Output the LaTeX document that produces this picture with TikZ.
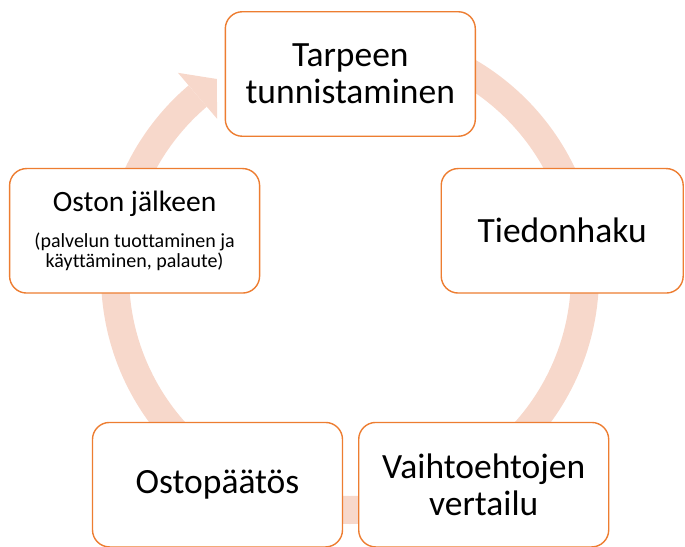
\documentclass[tikz,border=0pt]{standalone}
\usepackage{fontspec}
\setmainfont{Carlito}[Ligatures=NoCommon]
\usepackage{tikz}
\usetikzlibrary{positioning}
\definecolor{stageline}{HTML}{ED7D31}
\definecolor{ringfill}{HTML}{F7D8CB}

\begin{document}
\begin{tikzpicture}[x=1bp,y=1bp,on grid,
    stage/.style={draw=stageline,line width=1.4bp,fill=white,rounded corners=17bp,
        minimum width=250bp,minimum height=124.5bp,align=center,inner sep=0pt,
        font=\fontsize{35.5bp}{36.7bp}\selectfont},
    ring/.style={draw=ringfill,line width=28bp}]
    \useasboundingbox (0,0) rectangle (685,547);
    \coordinate (hub) at (350,272);
    \draw[ring] (hub) ++(90:235) arc[start angle=90,end angle=-229.6,radius=235bp];
    \begin{scope}[shift={(hub)}]
        \fill[ringfill] (130.4:265.5) -- (124.2:237) -- (130.4:205) -- cycle;
    \end{scope}
    \node[stage] (need) at (350.3,473) {Tarpeen\\tunnistaminen};
    \node[stage,minimum width=242bp] (search) [below right=156.8bp and 211.9bp of need] {Tiedonhaku};
    \node[stage] (compare) [below left=253.9bp and 78.5bp of search] {Vaihtoehtojen\\vertailu};
    \node[stage] (decision) [left=266.2bp of compare] {Ostopäätös};
    \node[stage,font=\fontsize{20bp}{20bp}\selectfont] (after) [below left=156.8bp and 215.7bp of need]
        {{\fontsize{29.5bp}{30bp}\selectfont Oston jälkeen}\\[16bp](palvelun tuottaminen ja\\käyttäminen, palaute)};
\end{tikzpicture}
\end{document}
